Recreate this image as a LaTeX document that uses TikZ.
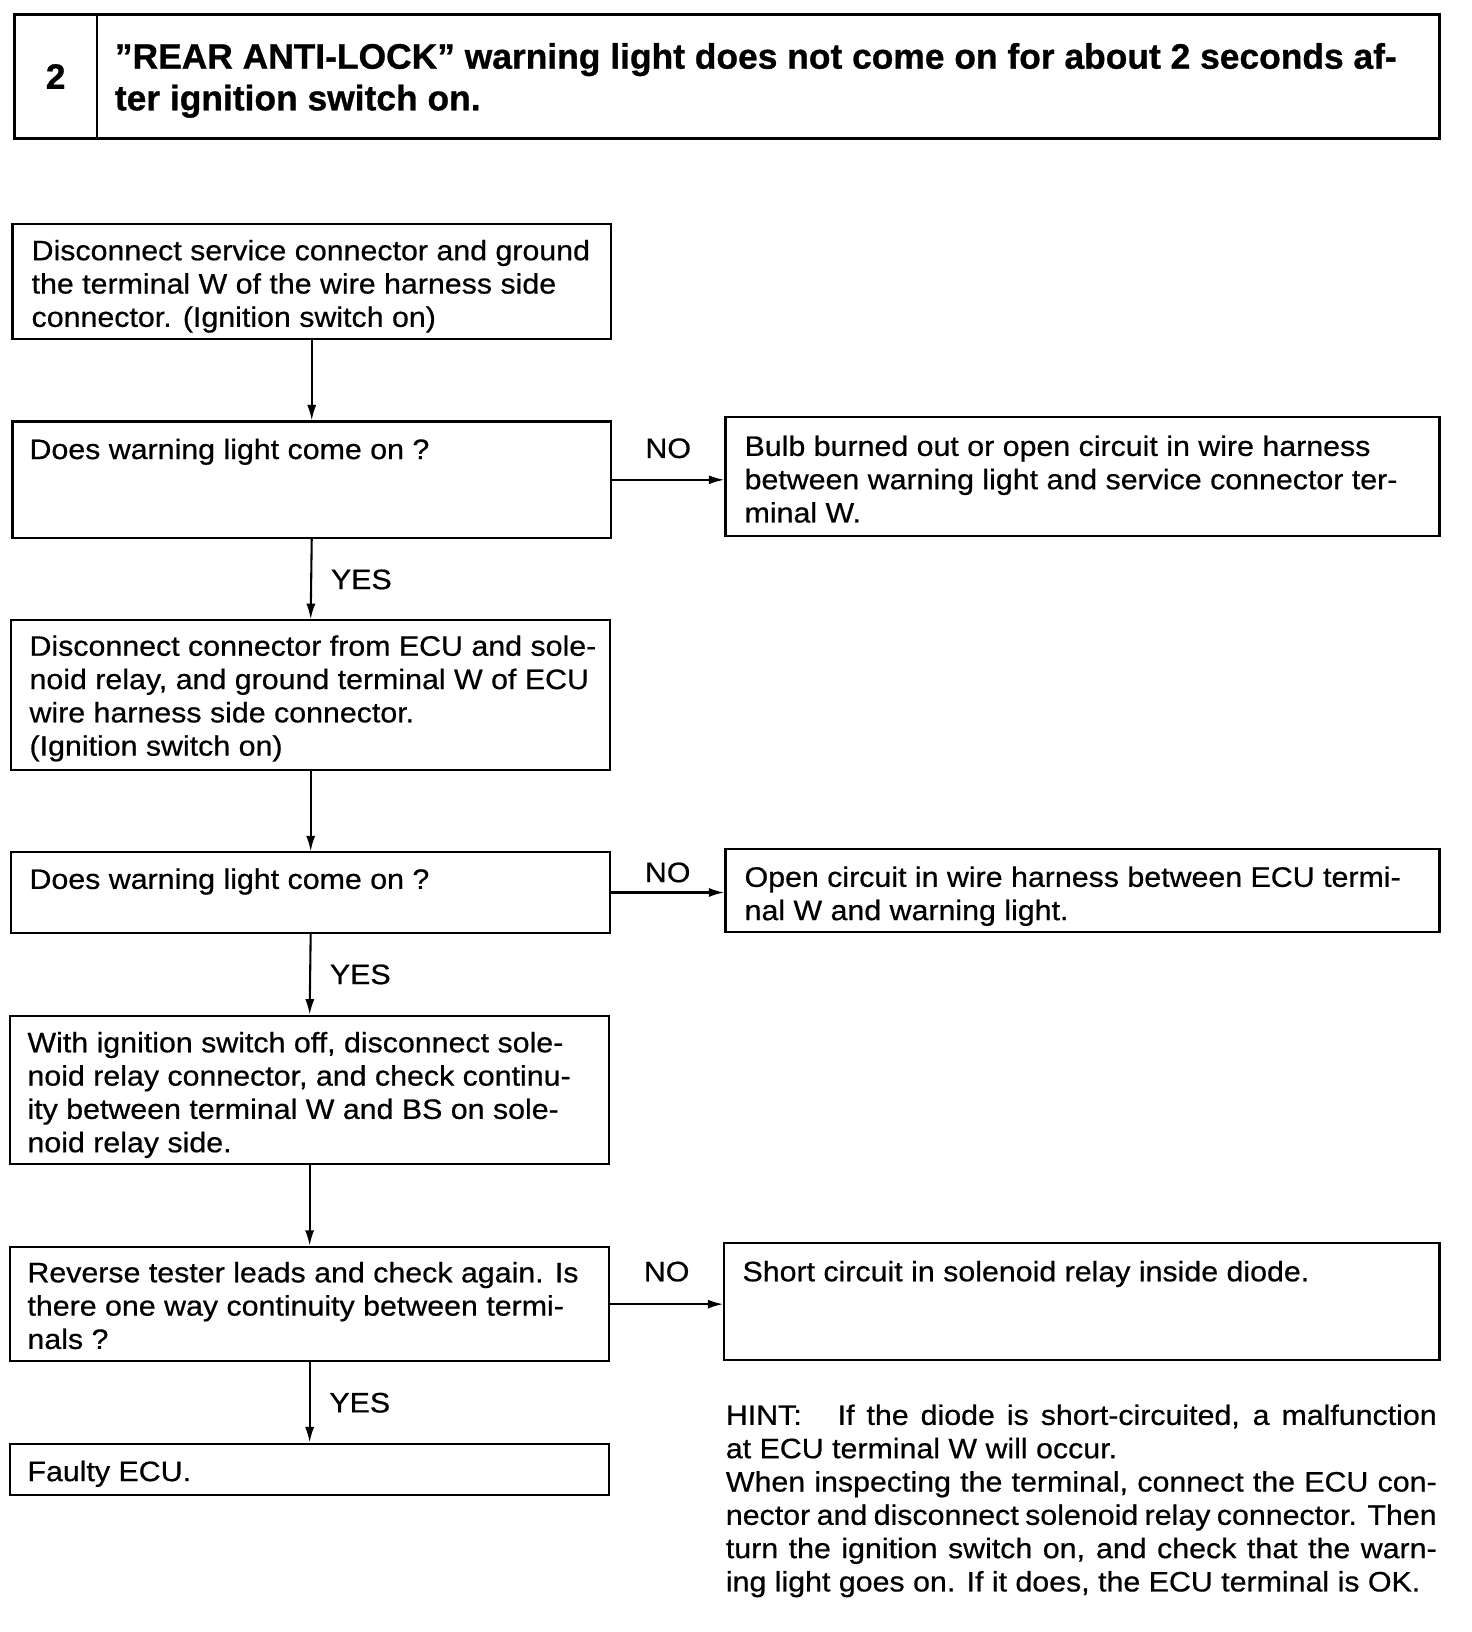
\documentclass[tikz,border=0pt]{standalone}
\usepackage{fontspec}
\setmainfont{Liberation Sans}
\newfontfamily\bodyfont[FakeStretch=1.08,FakeBold=0.6]{Liberation Sans}
\newfontfamily\headfont[FakeBold=0.8]{Liberation Sans}
\usetikzlibrary{arrows.meta,fit}
\begin{document}
\begin{tikzpicture}[x=0.5pt,y=-0.5pt,
  box/.style={draw, line width=1pt, inner sep=0pt},
  hbox/.style={draw, line width=1.2pt, inner sep=0pt},
  txt/.style={font=\bodyfont\fontsize{13.5}{16}\selectfont, align=left, inner sep=0pt, anchor=base west},
  lbl/.style={font=\bodyfont\fontsize{13.5}{16}\selectfont, inner sep=0pt},
  conn/.style={line width=1pt, -{Latex[length=7.5pt,width=4.4pt]}}]
\useasboundingbox (0,0) rectangle (1414,1568);
\fill[white] (0,0) rectangle (1414,1568);
% title
\node[hbox, fit={(14,14)(93,133)}] (num) {};
\node[hbox, fit={(93,14)(1383,133)}] (ttl) {};
\node[font=\headfont\bfseries\fontsize{17}{20}\selectfont, inner sep=0pt] (numt) at (num.center) {2};
\node[font=\headfont\bfseries\fontsize{17}{20}\selectfont, align=left, inner sep=0pt, anchor=base west] (ttlt) at (110,106)
  {”REAR ANTI-LOCK” warning light does not come on for about 2 seconds af-\\ter ignition switch on.};
% boxes
\node[box, fit={(12,215)(587,326)}] (A) {};
\node[box, fit={(12,405)(587,517)}] (B) {};
\node[box, fit={(697,401)(1383,515)}] (C1) {};
\node[box, fit={(11,596)(586,740)}] (D) {};
\node[box, fit={(11,819)(586,896)}] (E) {};
\node[box, fit={(697,816)(1383,895)}] (C2) {};
\node[box, fit={(10,976)(585,1118)}] (F) {};
\node[box, fit={(10,1198)(585,1308)}] (G) {};
\node[box, fit={(696,1194)(1383,1307)}] (C3) {};
\node[box, fit={(10,1387)(585,1436)}] (H) {};
% texts (base anchor = baseline of last line)
\node[txt] (At) at (30,314) {Disconnect service connector and ground\\the terminal W of the wire harness side\\connector. (Ignition switch on)};
\node[txt] (Bt) at (28,441) {Does warning light come on ?};
\node[txt] (C1t) at (715,502) {Bulb burned out or open circuit in wire harness\\between warning light and service connector ter-\\minal W.};
\node[txt] (Dt) at (28,726) {Disconnect connector from ECU and sole-\\noid relay, and ground terminal W of ECU\\wire harness side connector.\\(Ignition switch on)};
\node[txt] (Et) at (28,854) {Does warning light come on ?};
\node[txt] (C2t) at (715,884) {Open circuit in wire harness between ECU termi-\\nal W and warning light.};
\node[txt] (Ft) at (26,1107) {With ignition switch off, disconnect sole-\\noid relay connector, and check continu-\\ity between terminal W and BS on sole-\\noid relay side.};
\node[txt] (Gt) at (26,1296) {Reverse tester leads and check again. Is\\there one way continuity between termi-\\nals ?};
\node[txt] (C3t) at (713,1231) {Short circuit in solenoid relay inside diode.};
\node[txt] (Ht) at (26,1423) {Faulty ECU.};
\node[txt] (hint) at (697,1529) {\makebox[341.5pt][s]{HINT:\ \ \ If the diode is short-circuited, a malfunction}\\
at ECU terminal W will occur.\\
\makebox[341.5pt][s]{When inspecting the terminal, connect the ECU con-}\\
\makebox[341.5pt][s]{nector and disconnect solenoid relay connector. Then}\\
\makebox[341.5pt][s]{turn the ignition switch on, and check that the warn-}\\
ing light goes on. If it does, the ECU terminal is OK.};
% connectors
\draw[conn] (A.south) -- (B.north);
\draw[conn] (B.south) -- node[lbl, midway, anchor=base west, xshift=9pt, yshift=-4.75pt] {YES} (D.north);
\draw[conn] (D.south) -- (E.north);
\draw[conn] (E.south) -- node[lbl, midway, anchor=base west, xshift=9pt, yshift=-4.75pt] {YES} (F.north);
\draw[conn] (F.south) -- (G.north);
\draw[conn] (G.south) -- node[lbl, midway, anchor=base west, xshift=9pt, yshift=-4.75pt] {YES} (H.north);
\draw[conn] (B.east) -- node[lbl, midway, anchor=base, yshift=10.5pt] {NO} (B.east -| C1.west);
\draw[conn] (E.east) -- node[lbl, midway, anchor=base, yshift=5pt] {NO} (E.east -| C2.west);
\draw[conn] (G.east) -- node[lbl, midway, anchor=base, yshift=11pt] {NO} (G.east -| C3.west);
\end{tikzpicture}
\end{document}
